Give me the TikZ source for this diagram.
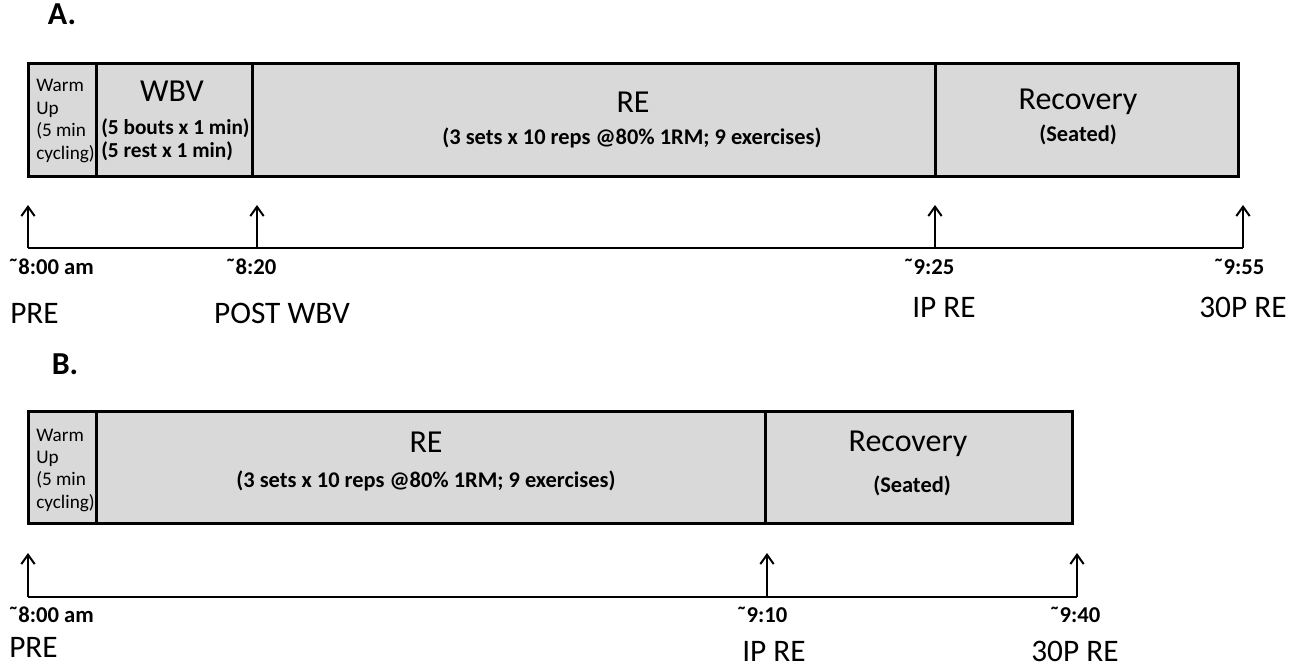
\documentclass[tikz,border=0pt]{standalone}
\usepackage{fontspec}
\setmainfont{Carlito}
\usetikzlibrary{arrows.meta,fit}
\definecolor{boxgray}{HTML}{D9D9D9}
\begin{document}
\begin{tikzpicture}[x=0.75pt,y=-0.75pt,
 seg/.style={draw=black, line width=2.25pt, fill=boxgray, inner sep=0pt},
 ttl/.style={font=\fontsize{24}{28}\selectfont, inner sep=0pt, text height=0.64em, text depth=0pt},
 sub/.style={font=\bfseries\fontsize{16.8}{19}\selectfont, inner sep=0pt, text height=0.64em, text depth=0pt},
 subs/.style={sub, font=\bfseries\fontsize{16}{19}\selectfont, anchor=west},
 wu/.style={font=\fontsize{14.4}{17}\selectfont, inner sep=0pt, anchor=west, text height=0.64em, text depth=0pt},
 tm/.style={font=\bfseries\fontsize{17}{20}\selectfont, inner sep=0pt, text height=0.64em, text depth=0pt},
 ev/.style={font=\fontsize{23.5}{27}\selectfont, inner sep=0pt, text height=0.64em, text depth=0pt},
 panel/.style={font=\bfseries\fontsize{24}{28}\selectfont, inner sep=0pt, text height=0.64em, text depth=0pt},
 axis/.style={line width=1.5pt},
 tick/.style={line width=1.5pt, -{Straight Barb[length=7pt,width=10pt]}}]
\useasboundingbox (0,0) rectangle (1298,669);

% ---------------- Panel A ----------------
\node[panel] (labA) at (62,20) {A.};
\node[seg, fit={(28,63)(96,176)}] (aW) {};
\node[wu] (aW1) at (36,87) {Warm};
\node[wu] (aW2) at (36,110) {Up};
\node[wu] (aW3) at (36,132) {(5 min};
\node[wu] (aW4) at (36,155) {cycling)};
\node[seg, fit={(96,63)(252,176)}] (aV) {};
\node[ttl] (aVt) at (172,97) {WBV};
\node[subs] (aV1) at (101,130) {(5 bouts x 1 min)};
\node[subs] (aV2) at (101,153) {(5 rest x 1 min)};
\node[seg, fit={(252,63)(935,176)}] (aR) {};
\node[ttl] (aRt) at (633,108) {RE};
\node[sub] (aRs) at (632,140) {(3 sets x 10 reps @80\% 1RM; 9 exercises)};
\node[seg, fit={(935,63)(1238,176)}] (aC) {};
\node[ttl] (aCt) at (1078,105) {Recovery};
\node[sub] (aCs) at (1078,137) {(Seated)};

\coordinate (a0) at (28,248);   \coordinate (a0t) at (28,205);
\coordinate (a1) at (257,248);  \coordinate (a1t) at (257,205);
\coordinate (a2) at (935,248);  \coordinate (a2t) at (935,205);
\coordinate (a3) at (1243,248); \coordinate (a3t) at (1243,205);
\draw[axis] (a0) -- (a3);
\draw[tick] (a0) -- (a0t);
\draw[tick] (a1) -- (a1t);
\draw[tick] (a2) -- (a2t);
\draw[tick] (a3) -- (a3t);

\node[tm, anchor=west] (aT0) at (8,270) {\char"02DC 8:00 am};
\node[tm] (aT1) at (251,270) {\char"02DC 8:20};
\node[tm] (aT2) at (929,270) {\char"02DC 9:25};
\node[tm] (aT3) at (1239,270) {\char"02DC 9:55};

\node[ev, anchor=west] (aE0) at (10,319) {PRE};
\node[ev] (aE1) at (282,319) {POST WBV};
\node[ev] (aE2) at (944,313) {IP RE};
\node[ev] (aE3) at (1243,313) {30P RE};

% ---------------- Panel B ----------------
\node[panel] (labB) at (65,370) {B.};
\node[seg, fit={(28,411)(96,523)}] (bW) {};
\node[wu] (bW1) at (36,437) {Warm};
\node[wu] (bW2) at (36,459) {Up};
\node[wu] (bW3) at (36,481) {(5 min};
\node[wu] (bW4) at (36,504) {cycling)};
\node[seg, fit={(96,411)(765,523)}] (bR) {};
\node[ttl] (bRt) at (426,448) {RE};
\node[sub] (bRs) at (426,483) {(3 sets x 10 reps @80\% 1RM; 9 exercises)};
\node[seg, fit={(765,411)(1072,523)}] (bC) {};
\node[ttl] (bCt) at (908,447) {Recovery};
\node[sub] (bCs) at (912,488) {(Seated)};

\coordinate (b0) at (28,597);   \coordinate (b0t) at (28,553);
\coordinate (b1) at (767,597);  \coordinate (b1t) at (767,553);
\coordinate (b2) at (1077,597); \coordinate (b2t) at (1077,553);
\draw[axis] (b0) -- (b2);
\draw[tick] (b0) -- (b0t);
\draw[tick] (b1) -- (b1t);
\draw[tick] (b2) -- (b2t);

\node[tm, anchor=west] (bT0) at (8,618) {\char"02DC 8:00 am};
\node[tm] (bT1) at (762,618) {\char"02DC 9:10};
\node[tm] (bT2) at (1075,618) {\char"02DC 9:40};

\node[ev, anchor=west] (bE0) at (9,653) {PRE};
\node[ev] (bE1) at (774,657) {IP RE};
\node[ev] (bE2) at (1075,657) {30P RE};
\end{tikzpicture}
\end{document}
